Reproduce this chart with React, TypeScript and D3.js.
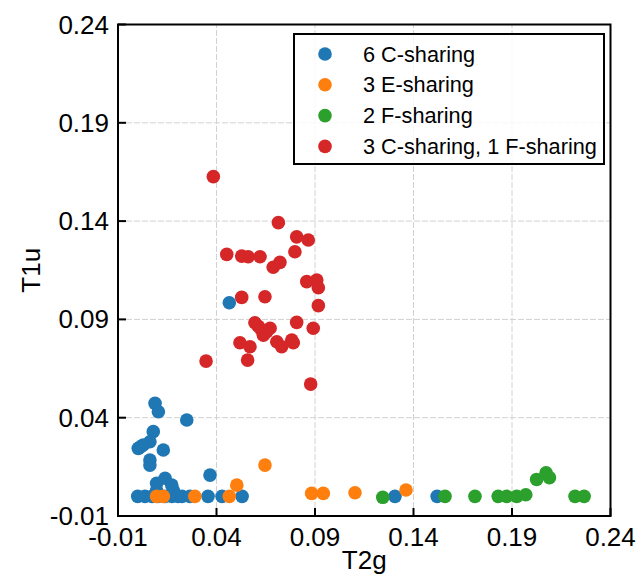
import React from "react";
import * as d3 from "d3";

const xTicks = [-0.01, 0.04, 0.09, 0.14, 0.19, 0.24];
const yTicks = [-0.01, 0.04, 0.09, 0.14, 0.19, 0.24];

const seriesNames = ["6 C-sharing", "3 E-sharing", "2 F-sharing", "3 C-sharing, 1 F-sharing"];
const seriesColors = ["#1f77b4", "#ff7f0e", "#2ca02c", "#d62728"];

const blueX = [0.0088, 0.0105, 0.0249, 0.0079, 0.0062, 0.0028, 0.0003, 0.0015, 0.013, 0.0062, 0.0062, 0.0367, 0.0139, 0.0096, 0.0173, 0.0096, 0.0181,
  0, 0.0037, 0.0073, 0.0103, 0.0139, 0.0174, 0.0205, 0.0225, 0.0265, 0.0357, 0.0428, 0.053, 0.1306, 0.152, 0.0465];
const blueY = [0.0473, 0.043, 0.0388, 0.0329, 0.0278, 0.0261, 0.0244, 0.0252, 0.0236, 0.0185, 0.0159, 0.0108, 0.0092, 0.0066, 0.0057, 0.003, 0.003,
  0, 0, 0, 0, 0, 0, 0, 0, 0, 0, 0, 0, 0, 0, 0.0985];

const orangeX = [0.0096, 0.013, 0.029, 0.0465, 0.0503, 0.0646, 0.0883, 0.0942, 0.1103, 0.1362];
const orangeY = [0, 0, 0, 0, 0.0057, 0.0159, 0.0015, 0.0015, 0.0018, 0.0032];

const greenX = [0.1244, 0.156, 0.1712, 0.183, 0.1873, 0.1924, 0.197, 0.2025, 0.2073, 0.209, 0.222, 0.2266];
const greenY = [-0.0005, 0, 0, 0, 0, 0, 0.0008, 0.0086, 0.012, 0.0095, 0, 0];

const redX = [0.0384, 0.0714, 0.0807, 0.0866, 0.0452, 0.0528, 0.0561, 0.0621, 0.0798, 0.0722, 0.0688, 0.0858, 0.0909, 0.0917, 0.0917,
  0.0528, 0.0646, 0.0595, 0.0629, 0.0672, 0.0638, 0.0807, 0.0891, 0.0519, 0.057, 0.0706, 0.0731, 0.0782, 0.079, 0.0347, 0.0558, 0.0878, 0.0612, 0.0655];
const redY = [0.1626, 0.1392, 0.132, 0.1304, 0.1231, 0.1222, 0.1219, 0.1219, 0.1244, 0.119, 0.1165, 0.1092, 0.11, 0.1061, 0.097,
  0.1012, 0.1015, 0.0883, 0.0846, 0.0855, 0.082, 0.0885, 0.0855, 0.0781, 0.0761, 0.0786, 0.0761, 0.0795, 0.0781, 0.0688, 0.0693, 0.0571, 0.0865, 0.0838];

const seriesX = [blueX, orangeX, greenX, redX];
const seriesY = [blueY, orangeY, greenY, redY];

export default function App() {
  const W = 639, H = 577;
  const x = d3.scaleLinear().domain([-0.01, 0.24]).range([118, 610.5]);
  const y = d3.scaleLinear().domain([-0.01, 0.24]).range([516, 24.5]);
  const fmt = (v: number) => v.toFixed(2);
  const font = "'Liberation Sans', Arial, sans-serif";
  const [x0, x1] = x.range();
  const [y0, y1] = y.range();
  const r = 6.8;
  return (
    <svg width={W} height={H} style={{ position: "absolute", left: 0, top: 0, display: "block", background: "#fff" }} fontFamily={font}>
      <rect x={0} y={0} width={W} height={H} fill="#fff" />
      {xTicks.map((t, i) => (
        <line key={"gx" + i} x1={x(t)} x2={x(t)} y1={y0} y2={y1} stroke="#d2d2d2" strokeWidth={1} strokeDasharray="6,2" />
      ))}
      {yTicks.map((t, i) => (
        <line key={"gy" + i} x1={x0} x2={x1} y1={y(t)} y2={y(t)} stroke="#d2d2d2" strokeWidth={1} strokeDasharray="6,2" />
      ))}
      {seriesX.map((xs, s) =>
        xs.map((v, i) => (
          <circle key={s + "-" + i} cx={x(v)} cy={y(seriesY[s][i])} r={r} fill={seriesColors[s]} />
        ))
      )}
      <rect x={x0} y={y1} width={x1 - x0} height={y0 - y1} fill="none" stroke="#000" strokeWidth={2} />
      {xTicks.map((t, i) => (
        <g key={"tx" + i}>
          <line x1={x(t)} x2={x(t)} y1={y0} y2={y0 - 8} stroke="#000" strokeWidth={2} />
          <text x={x(t)} y={y0 + 30} textAnchor="middle" fontSize={26}>{fmt(t)}</text>
        </g>
      ))}
      {yTicks.map((t, i) => (
        <g key={"ty" + i}>
          <line x1={x0} x2={x0 + 8} y1={y(t)} y2={y(t)} stroke="#000" strokeWidth={2} />
          <text x={x0 - 9} y={y(t) + 9} textAnchor="end" fontSize={26}>{fmt(t)}</text>
        </g>
      ))}
      <text x={(x0 + x1) / 2} y={569} textAnchor="middle" fontSize={26}>T2g</text>
      <text transform={`translate(40,${(y0 + y1) / 2}) rotate(-90)`} textAnchor="middle" fontSize={26}>T1u</text>
      <rect x={294} y={34} width={310} height={130} fill="#fff" fillOpacity={0.8} stroke="#000" strokeWidth={2} />
      {seriesNames.map((n, i) => (
        <g key={"lg" + i}>
          <circle cx={325} cy={54 + i * 30.8} r={r} fill={seriesColors[i]} />
          <text x={363} y={54 + i * 30.8 + 7.5} fontSize={21.7}>{n}</text>
        </g>
      ))}
    </svg>
  );
}
